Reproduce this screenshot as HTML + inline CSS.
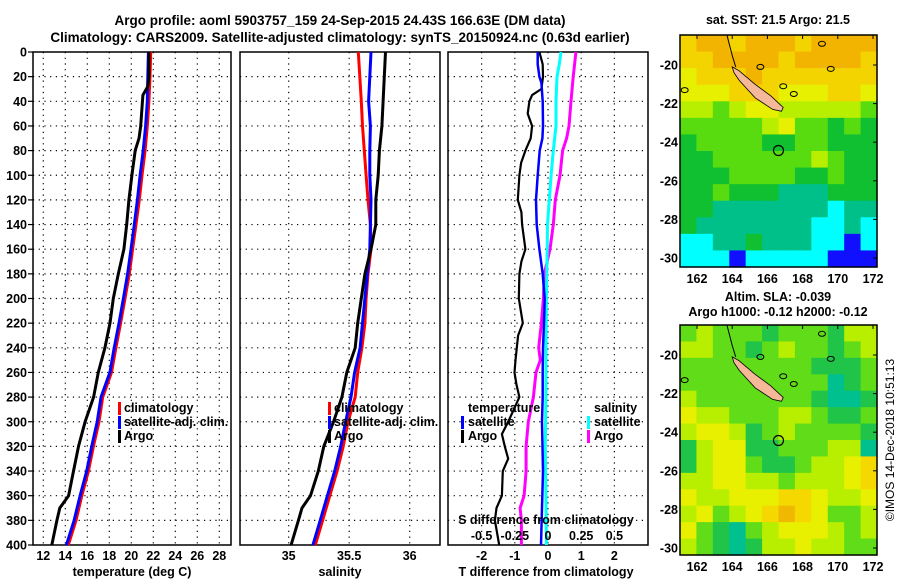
<!DOCTYPE html>
<html><head><meta charset="utf-8">
<style>
html,body{margin:0;padding:0;background:#fff;}
svg{display:block;font-family:"Liberation Sans",Arial,sans-serif;}
.b{font-weight:bold;font-size:12.5px;}
</style></head>
<body>
<svg id="fig" width="900" height="580" viewBox="0 0 900 580">
<rect x="0" y="0" width="900" height="580" fill="#fff"/>
<text x="340" y="25" text-anchor="middle" style="font-weight:bold;font-size:13.5px">Argo profile: aoml 5903757_159 24-Sep-2015 24.43S 166.63E (DM data)</text>
<text x="340" y="42" text-anchor="middle" style="font-weight:bold;font-size:13.5px">Climatology: CARS2009. Satellite-adjusted climatology: synTS_20150924.nc (0.63d earlier)</text>
<g id="panels"></g>
<g id="maps"></g>
<text transform="translate(894,440) rotate(-90)" text-anchor="middle" style="font-size:12px">©IMOS 14-Dec-2018 10:51:13</text>
</svg>
<script>
// ---- data ----
const tDepth   = [0,20,40,60,80,100,120,140,160,180,200,220,240,260,280,300,320,340,360,380,400];
const tClim    = [21.76,21.7,21.6,21.45,21.25,20.97,20.73,20.43,20.12,19.82,19.43,19.03,18.6,18.2,17.4,17.06,16.55,16.1,15.5,14.97,14.27];
const tSat     = [21.55,21.5,21.45,21.3,21.08,20.8,20.55,20.27,19.97,19.66,19.28,18.88,18.45,18.05,17.25,16.9,16.4,15.95,15.35,14.8,14.1];
const argoDepth= [0,20,28,35,60,70,80,100,120,140,160,180,200,220,240,260,280,300,320,340,360,370,380,400];
const tArgo    = [21.6,21.6,21.5,21.05,20.85,20.7,20.35,20.05,19.78,19.58,19.33,18.82,18.36,18.06,17.6,17.0,16.57,15.8,15.2,14.75,14.3,13.5,13.24,12.77];
const sDepth   = [0,40,60,80,100,120,140,160,180,200,220,240,260,280,300,320,340,360,380,400];
const sClim    = [35.575,35.6,35.61,35.625,35.64,35.655,35.675,35.68,35.655,35.64,35.63,35.605,35.57,35.55,35.49,35.45,35.4,35.34,35.28,35.22];
const sSat     = [35.68,35.66,35.675,35.67,35.67,35.68,35.675,35.67,35.65,35.63,35.61,35.59,35.545,35.515,35.47,35.43,35.38,35.32,35.26,35.2];
const sArgoD   = [0,40,60,80,100,120,140,160,180,200,220,240,260,280,300,320,340,360,370,380,400];
const sArgo    = [35.8,35.78,35.77,35.75,35.74,35.72,35.72,35.68,35.63,35.6,35.57,35.55,35.48,35.44,35.37,35.29,35.245,35.18,35.11,35.08,35.02];
const dtDepth  = [0,10,20,30,35,40,50,60,70,80,90,100,120,130,140,160,170,180,200,220,230,240,250,260,270,280,300,310,320,330,340,360,370,380,400];
const dtArgo   = [-0.26,-0.16,-0.15,-0.2,-0.48,-0.56,-0.61,-0.48,-0.52,-0.68,-0.81,-0.86,-0.91,-0.8,-0.78,-0.68,-0.8,-0.86,-0.88,-0.76,-0.9,-0.94,-0.98,-1.01,-0.95,-0.86,-1.2,-1.39,-1.3,-1.2,-1.36,-1.39,-1.55,-1.6,-1.47];
const dtSatD   = [0,10,20,25,40,60,70,80,100,120,140,160,180,200,220,240,260,280,300,340,400];
const dtSat    = [-0.31,-0.31,-0.26,-0.2,-0.16,-0.15,-0.17,-0.25,-0.31,-0.36,-0.34,-0.26,-0.16,-0.1,-0.12,-0.15,-0.16,-0.16,-0.18,-0.15,-0.21];
const dsSatD   = [0,10,20,40,60,80,100,120,140,160,180,200,240,280,320,360,400];
const dsSat    = [0.098,0.085,0.068,0.06,0.06,0.04,0.023,0.01,-0.004,-0.006,-0.01,-0.012,-0.015,-0.016,-0.02,-0.016,-0.012];
const dsArgoD  = [0,10,20,40,60,70,80,100,120,140,160,180,200,220,240,250,260,280,300,320,340,360,370,380,400];
const dsArgo   = [0.21,0.2,0.19,0.173,0.158,0.14,0.11,0.09,0.055,0.04,0.015,-0.028,-0.035,-0.05,-0.07,-0.058,-0.09,-0.11,-0.148,-0.165,-0.165,-0.18,-0.21,-0.2,-0.2];
const depthTicks = [0,20,40,60,80,100,120,140,160,180,200,220,240,260,280,300,320,340,360,380,400];
const tTicks = [12,14,16,18,20,22,24,26,28];
const sTicks = [35,35.5,36];
const dtTicks = [-2,-1,0,1,2];
const dsTicks = [-0.5,-0.25,0,0.25,0.5];
const dsTickLabels = ["-0.5","-0.25","0","0.25","0.5"];
const sstGrid = [
"100100010000","110000100001","211101111111","222111222112","334322333334",
"444443244545","544445544555","554444443455","555444455455","554555666555",
"556666666766","566666667767","776656667787","777877777888"];
const sstColors = ["#f2b400","#f4d400","#e6f000","#b8ee00","#58dc10","#10c030","#00c08a","#00ffff","#1010ff"];
const slaGrid = [
"434445444533","334454344543","444444445554","444444444654","344444445665",
"233444334554","322354344445","532255444336","532245543321","332233433321",
"233222112332","324321012443","245643222343","345653323344"];
const slaColors = ["#f0b800","#f4d800","#e8f000","#b8ee00","#60dc18","#20c448","#00c090"];

const NS="http://www.w3.org/2000/svg";
function mk(tag,attrs,parent){const e=document.createElementNS(NS,tag);for(const k in attrs)e.setAttribute(k,attrs[k]);parent.appendChild(e);return e;}
const P=document.getElementById('panels');
const top0=52, bot0=545;
const yD=d=>top0+(bot0-top0)*d/400;
function lin(d0,d1,r0,r1){return v=>r0+(v-d0)*(r1-r0)/(d1-d0);}

function panel(x0,x1,xs,ticks,labels,name){
  const g=mk('g',{},P);
  
  
  depthTicks.forEach(d=>{
    if(d>0&&d<400){const l=mk('line',{x1:x0,x2:x1,y1:yD(d),y2:yD(d),stroke:'#000','stroke-width':1.2,'stroke-dasharray':'1.2 4.5'},g);
    
    }
  });
  ticks.forEach((t,i)=>{
    const x=xs(t);
    const l=mk('line',{x1:x,x2:x,y1:top0,y2:bot0,stroke:'#000','stroke-width':1.2,'stroke-dasharray':'1.2 4.5'},g);
    
    
    if(labels){const t2=mk('text',{x:x,y:560,'text-anchor':'middle',class:'b'},g);t2.textContent=labels[i];
    
    }
  });
  const r=mk('rect',{x:x0,y:top0,width:x1-x0,height:bot0-top0,fill:'none',stroke:'#000','stroke-width':1.5},g);
  
  
  return g;
}
function line(g,xs,vals,depths,color,w,name){
  const pts=vals.map((v,i)=>xs(v).toFixed(1)+','+yD(depths[i]).toFixed(1)).join(' ');
  const p=mk('polyline',{points:pts,fill:'none',stroke:color,'stroke-width':w,'stroke-linejoin':'round'},g);
  
  
}
function txt(g,x,y,s,name,anchor){const t=mk('text',{x:x,y:y,class:'b','text-anchor':anchor||'start'},g);t.textContent=s;
  
  
  return t;}
function bar(g,x,y,color){const r=mk('rect',{x:x,y:y-10,width:3,height:13,fill:color},g);
  
  }

// Panel 1 temperature
const xT=lin(12,28,43.3,219.3);
const g1=panel(33,231,xT,tTicks,tTicks.map(String),'temperature-panel');
depthTicks.forEach(d=>{
  const l=mk('line',{x1:28,x2:33,y1:yD(d),y2:yD(d),stroke:'#000','stroke-width':1.2},g1);
  
  
  txt(g1,27,yD(d)+4.5,String(d),'y-tick-label','end');
});
line(g1,xT,tClim,tDepth,'#ff0000',3,'temp-climatology-line');
line(g1,xT,tSat,tDepth,'#0000ff',3,'temp-satellite-line');
line(g1,xT,tArgo,argoDepth,'#000',3,'temp-argo-line');
txt(g1,132,576,'temperature (deg C)','x-axis-title','middle');
bar(g1,118,412,'#ff0000');txt(g1,124,412,'climatology','legend-climatology');
bar(g1,118,426,'#0000ff');txt(g1,124,426,'satellite-adj. clim.','legend-satellite');
bar(g1,118,440,'#000');txt(g1,124,440,'Argo','legend-argo');

// Panel 2 salinity
const xS=lin(35,36,288.7,409.7);
const g2=panel(240,440,xS,sTicks,["35","35.5","36"],'salinity-panel');
line(g2,xS,sClim,sDepth,'#ff0000',3,'sal-climatology-line');
line(g2,xS,sSat,sDepth,'#0000ff',3,'sal-satellite-line');
line(g2,xS,sArgo,sArgoD,'#000',3,'sal-argo-line');
txt(g2,340,576,'salinity','x-axis-title','middle');
bar(g2,328,412,'#ff0000');txt(g2,334,412,'climatology','legend-climatology');
bar(g2,328,426,'#0000ff');txt(g2,334,426,'satellite-adj. clim.','legend-satellite');
bar(g2,328,440,'#000');txt(g2,334,440,'Argo','legend-argo');

// Panel 3 differences
const xDT=lin(0,1,548,581.2);
const xDS=lin(0,0.25,548,581.2);
const g3=panel(448,648,xDT,dtTicks,dtTicks.map(String),'difference-panel');
line(g3,xDT,dtArgo,dtDepth,'#000',2.2,'dt-argo-line');
line(g3,xDS,dsArgo,dsArgoD,'#ff00ff',3,'ds-argo-line');
line(g3,xDS,dsSat,dsSatD,'#00ffff',3,'ds-satellite-line');
line(g3,xDT,dtSat,dtSatD,'#0000ff',2.5,'dt-satellite-line');
txt(g3,546,576,'T difference from climatology','x-axis-title','middle');
txt(g3,546,524,'S difference from climatology','s-axis-title','middle');
dsTicks.forEach((v,i)=>txt(g3,xDS(v),540,dsTickLabels[i],'s-tick-label','middle'));
txt(g3,468,412,'temperature','legend-temp-heading');
bar(g3,461,426,'#0000ff');txt(g3,468,426,'satellite','legend-temp-satellite');
bar(g3,461,440,'#000');txt(g3,468,440,'Argo','legend-temp-argo');
txt(g3,594,412,'salinity','legend-sal-heading');
bar(g3,587,426,'#00ffff');txt(g3,594,426,'satellite','legend-sal-satellite');
bar(g3,587,440,'#ff00ff');txt(g3,594,440,'Argo','legend-sal-argo');

// ---- maps ----
const M=document.getElementById('maps');
const mx0=680,mx1=877;
const xL=lin(162,172,697,873);
function map(y0,y1,grid,colors,name,dy){
  const g=mk('g',{},M);
  
  
  const rows=grid.length, cols=grid[0].length;
  const cw=(mx1-mx0)/cols, ch=(y1-y0)/rows;
  grid.forEach((row,r)=>{for(let c=0;c<cols;c++){
    const rc=mk('rect',{x:(mx0+c*cw).toFixed(2),y:(y0+r*ch).toFixed(2),width:(cw+0.6).toFixed(2),height:(ch+0.6).toFixed(2),fill:colors[+row[c]]},g);
    
    
  }});
  const yLat=lat=>65+dy+(-20-lat)*19.3;
  const cl=mk('polyline',{points:`${xL(163.7)},${y0} ${xL(164)},${yLat(-19.5)} ${xL(164.2)},${yLat(-20.1)}`,fill:'none',stroke:'#000','stroke-width':1},g);
  
  
  const isl=mk('polygon',{points:[[164,-20.1],[164.4,-20.3],[165.3,-21],[166.2,-21.6],[166.9,-22.2],[166.8,-22.4],[166.3,-22.3],[165.3,-21.7],[164.4,-20.8],[164.1,-20.4]].map(p=>xL(p[0]).toFixed(1)+','+yLat(p[1]).toFixed(1)).join(' '),fill:'#f5b898',stroke:'#000','stroke-width':0.8},g);
  
  
  [[169.1,-18.9],[165.6,-20.1],[166.9,-21.1],[167.5,-21.5],[169.6,-20.2],[161.3,-21.3]].forEach(p=>{
    const e=mk('ellipse',{cx:xL(p[0]),cy:yLat(p[1]),rx:3.5,ry:2.5,fill:'none',stroke:'#000','stroke-width':1},g);
    
    });
  const ci=mk('circle',{cx:xL(166.63),cy:yLat(-24.43),r:5,fill:'none',stroke:'#000','stroke-width':1.2},g);
  
  
  const fr=mk('rect',{x:mx0,y:y0,width:mx1-mx0,height:y1-y0,fill:'none',stroke:'#000','stroke-width':1.5},g);
  
  
  [-20,-22,-24,-26,-28,-30].forEach(lat=>{
    const yy=yLat(lat);
    const tk2=mk('line',{x1:mx1-4,x2:mx1,y1:yy,y2:yy,stroke:'#000','stroke-width':1},g);
    
    
    txt(g,678,yy+4.5,String(lat),'lat-tick-label','end');
  });
  [162,164,166,168,170,172].forEach(lon=>{
    const tk=mk('line',{x1:xL(lon),x2:xL(lon),y1:y0,y2:y0+4,stroke:'#000','stroke-width':1},g);
    
    
    txt(g,xL(lon),y1+16,String(lon),'lon-tick-label','middle');
  });
  return g;
}
const gm1=map(35,267,sstGrid,sstColors,'sst-map',0);
txt(gm1,778,24,'sat. SST: 21.5 Argo: 21.5','sst-map-title','middle');
const gm2=map(325,555,slaGrid,slaColors,'sla-map',290);
txt(gm2,778,301,'Altim. SLA: -0.039','sla-map-title','middle');
txt(gm2,778,316,'Argo h1000: -0.12 h2000: -0.12','sla-map-subtitle','middle');
</script>
</body></html>
